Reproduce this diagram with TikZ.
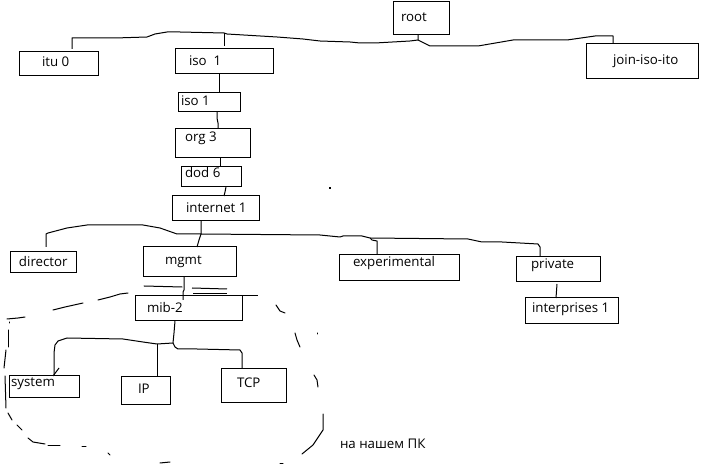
\documentclass[tikz,border=0pt]{standalone}
\usepackage{fontspec}
\setmainfont{Open Sans}
\begin{document}
\begin{tikzpicture}[x=1pt,y=-1pt,
  box/.style={draw=black,line width=1pt,inner sep=0pt,outer sep=0pt,rectangle},
  lbl/.style={anchor=base west,inner sep=0pt,outer sep=0pt,font=\fontsize{13.3}{16}\selectfont},
  wire/.style={draw=black,line width=1pt,line join=round},
  handstroke/.style={draw=black,line width=1pt,line cap=round}]
\useasboundingbox (0,0) rectangle (705,465);
\fill[white] (0,0) rectangle (705,465);
% boxes
\node[box,minimum width=56pt,minimum height=33pt] (root) at (421,18.5) {};
\node[box,minimum width=79pt,minimum height=24pt] (itu) at (58.5,64) {};
\node[box,minimum width=98pt,minimum height=25pt] (isoA) at (224,61.5) {};
\node[box,minimum width=112pt,minimum height=35pt] (join) at (642,61.5) {};
\node[box,minimum width=62pt,minimum height=19pt] (isoB) at (209,102.5) {};
\node[box,minimum width=75pt,minimum height=29pt] (org) at (212.5,143.5) {};
\node[box,minimum width=60pt,minimum height=20pt] (dod) at (211,177) {};
\node[box,minimum width=87pt,minimum height=25pt] (inet) at (215.5,208.5) {};
\node[box,minimum width=66pt,minimum height=21pt] (dir) at (43,262.5) {};
\node[box,minimum width=93pt,minimum height=30pt] (mgmt) at (189.5,262) {};
\node[box,minimum width=107pt,minimum height=25pt] (mib) at (188.5,308.5) {};
\node[box,minimum width=120pt,minimum height=26pt] (exp) at (399,268) {};
\node[box,minimum width=84pt,minimum height=25pt] (priv) at (558,269.5) {};
\node[box,minimum width=93pt,minimum height=26pt] (intp) at (571.5,311) {};
\node[box,minimum width=70pt,minimum height=22pt] (sys) at (44,387) {};
\node[box,minimum width=49pt,minimum height=28pt] (ip) at (145.5,391) {};
\node[box,minimum width=65pt,minimum height=34pt] (tcp) at (253.5,386) {};
% labels
\node[lbl] (troot) at (401,22) {root};
\node[lbl] (titu) at (42,67) {itu 0};
\node[lbl] (tisoA) at (189,66) {iso\ \ 1};
\node[lbl] (tjoin) at (613,65) {join-iso-ito};
\node[lbl] (tisoB) at (181,106) {iso 1};
\node[lbl] (torg) at (185,142) {org 3};
\node[lbl] (tdod) at (185,178) {dod 6};
\node[lbl] (tinet) at (186,213) {internet 1};
\node[lbl] (tdir) at (19,267) {director};
\node[lbl] (tmgmt) at (165,265) {mgmt};
\node[lbl] (tmib) at (147,313) {mib-2};
\node[lbl] (texp) at (353,267) {experimental};
\node[lbl] (tpriv) at (531,269) {private};
\node[lbl] (tintp) at (532,313) {interprises 1};
\node[lbl] (tsys) at (11,387) {system};
\node[lbl] (tip) at (138,393) {IP};
\node[lbl] (ttcp) at (237,388) {TCP};
\node[lbl] (tpc) at (340,448) {на нашем ПК};
% junction coordinates
\coordinate (j1) at (224,33);
\coordinate (j2) at (418,40);
\coordinate (j3) at (201,234);
\coordinate (j4) at (370,238);
\coordinate (j5) at (173,343);
\coordinate (j6) at (157,344);
% top level
\draw[wire] ([xshift=-3pt]root.south) -- (j2) -- (410,41) -- (375,43) -- (360,43) -- (350,42) -- (320,41) -- (303,39) -- (277,37) -- (227,34) -- (j1) -- (180,32) -- (167,32) -- (155,34) -- (147,37) -- (115,38) -- (72,38) -- ([xshift=13.5pt,yshift=3pt]itu.north);
\draw[wire] (j1) -- ([yshift=3pt]isoA.north);
\draw[wire] (j2) -- (430,46) -- (478,46) -- (513,40) -- (567,40) -- (595,36) -- (613,36) -- ([xshift=-29pt,yshift=1pt]join.north);
% chain
\draw[wire] ([xshift=-5pt]isoA.south) -- ([xshift=10pt]isoB.north);
\draw[wire] ([xshift=8pt]isoB.south) -- (217,118) -- (218,123) -- ([xshift=5.5pt]org.north);
\draw[wire] ([xshift=7.5pt]org.south) -- ([xshift=9pt]dod.north);
\draw[wire] ([xshift=15pt]dod.south) -- (225,192) -- ([xshift=8.5pt]inet.north);
% internet children
\draw[wire] ([xshift=-14.5pt]inet.south) -- (j3) -- (199,240) -- ([xshift=7.5pt]mgmt.north);
\draw[wire] (j3) -- (177,234) -- (160,228) -- (143,225) -- (127,225) -- (87,225) -- (67,228) -- (48,233) -- (46,234) -- ([xshift=3pt,yshift=5pt]dir.north);
\draw[wire] (j3) -- (320,235) -- (340,237) -- (343,236) -- (362,236) -- (j4) -- (372,240) -- (377,241) -- ([xshift=-22pt,yshift=1pt]exp.north);
\draw[wire] (j4) -- (468,239) -- (482,242) -- (502,242) -- (538,244) -- (540,247) -- ([xshift=-18pt]priv.north);
\draw[wire] ([xshift=-1pt,yshift=-2pt]priv.south) -- ([xshift=-15.5pt]intp.north);
% mgmt to mib
\draw[wire] ([xshift=-5.5pt]mgmt.south) -- (184,290) -- (183,292) -- ([xshift=-5.5pt,yshift=-4pt]mib.north);
\draw[wire] (mib.north east) -- ++(16,0);
\draw[wire] (192,288) -- (227,289);
\draw[wire] (193,294) -- (227,294);
% mib children
\draw[wire] ([xshift=-13.5pt]mib.south) -- (174,333) -- (j5) -- (j6) -- (143,342) -- (123,339) -- (67,338) -- (58,341) -- (55,345) -- (54,353) -- ([xshift=10pt]sys.north);
\draw[wire] ([xshift=9pt]sys.north) -- ++(6,-8);
\draw[wire] (j6) -- ([xshift=11.5pt]ip.north);
\draw[wire] (j5) -- (175,347) -- (178,349) -- (197,349) -- (240,350) -- (242,353) -- ([xshift=-11.5pt]tcp.north);
% hand-drawn dashed outline
\draw[handstroke] (7,319) -- (18,318) -- (25,317);
\draw[handstroke] (9,322) -- (9,323);
\draw[handstroke] (53,310) -- (65,307) -- (83,303);
\draw[handstroke] (98,300) -- (110,297) -- (120,294) -- (128,293);
\draw[handstroke] (144,286) -- (182,287);
\draw[handstroke] (276,305) -- (280,311) -- (285,313);
\draw[handstroke] (295,333) -- (297,340) -- (300,347);
\draw[handstroke] (317,333) -- (317,334);
\draw[handstroke] (314,375) -- (317,380) -- (318,387);
\draw[handstroke] (323,414) -- (323,430) -- (313,445) -- (302,454);
\draw[handstroke] (280,463) -- (283,463);
\draw[handstroke] (160,463) -- (170,462);
\draw[handstroke] (108,453) -- (110,455);
\draw[handstroke] (82,446) -- (86,446);
\draw[handstroke] (28,438) -- (33,442) -- (45,444);
\draw[handstroke] (48,445) -- (60,445);
\draw[handstroke] (17,425) -- (22,430);
\draw[handstroke] (8,413) -- (12,420);
\draw[handstroke] (8,330) -- (8,347);
\draw[handstroke] (6,350) -- (4,368);
\draw[handstroke] (5,376) -- (6,408);
% stray dot
\fill[black] (328.5,187.5) rectangle (330.5,189.5);
\end{tikzpicture}
\end{document}
